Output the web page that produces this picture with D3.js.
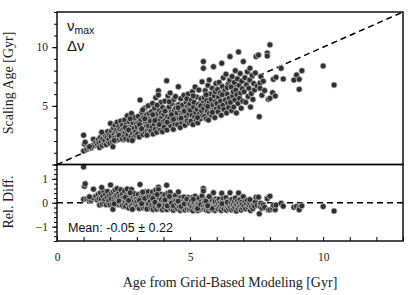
<!DOCTYPE html>
<html>
<head>
<meta charset="utf-8">
<script src="https://cdn.jsdelivr.net/npm/d3@7"></script>
<style>
  body { margin: 0; background: #fff; }
  svg { display: block; }
</style>
</head>
<body>
<div id="chart"></div>
<script>
// ages, grid-based modelling (x) vs scaling relations (y)
const gridAge = [
  1.00,1.03,1.06,1.00,1.12,1.20,1.28,1.37,1.43,1.33,1.46,1.22,
  1.52,1.55,1.58,1.60,1.63,1.66,1.70,1.72,1.75,1.78,1.80,1.82,1.85,1.88,1.90,1.92,1.95,1.97,1.99,1.68,
  2.01,2.03,2.05,2.08,2.10,2.12,2.14,2.16,2.18,2.20,2.22,2.24,2.26,2.28,2.30,2.32,2.34,2.36,2.38,2.40,2.42,2.44,2.46,2.48,2.49,2.15,2.33,2.45,
  2.51,2.52,2.54,2.56,2.58,2.60,2.62,2.64,2.66,2.68,2.70,2.72,2.74,2.76,2.78,2.80,2.82,2.84,2.86,2.88,2.90,2.92,2.94,2.96,2.98,2.57,2.69,2.83,2.91,2.75,
  3.01,3.03,3.05,3.07,3.09,3.12,3.13,3.15,3.17,3.19,3.21,3.23,3.25,3.27,3.29,3.31,3.33,3.35,3.37,3.39,3.41,3.43,3.45,3.47,3.49,3.10,3.22,3.30,3.38,3.46,3.18,3.44,
  3.51,3.53,3.55,3.57,3.59,3.61,3.63,3.65,3.67,3.69,3.71,3.73,3.75,3.77,3.79,3.81,3.81,3.83,3.85,3.87,3.89,3.91,3.93,3.95,3.97,3.99,3.60,3.68,3.76,3.84,3.92,3.96,
  4.01,4.03,4.05,4.07,4.12,4.11,4.13,4.15,4.17,4.19,4.21,4.23,4.25,4.27,4.29,4.31,4.33,4.35,4.37,4.39,4.41,4.43,4.45,4.47,4.49,4.06,4.14,4.22,4.30,4.38,4.46,
  4.51,4.53,4.56,4.57,4.59,4.61,4.63,4.65,4.67,4.69,4.71,4.73,4.75,4.77,4.79,4.81,4.83,4.85,4.87,4.89,4.91,4.93,4.95,4.97,4.99,4.55,4.66,4.78,4.88,4.96,
  5.01,5.03,5.05,5.07,5.09,5.11,5.13,5.15,5.17,5.19,5.21,5.23,5.25,5.27,5.29,5.31,5.33,5.35,5.37,5.39,5.41,5.43,5.45,5.47,5.49,5.50,5.50,5.12,5.28,5.40,
  5.51,5.53,5.55,5.57,5.59,5.61,5.63,5.65,5.67,5.69,5.71,5.73,5.75,5.77,5.79,5.81,5.83,5.85,5.88,5.89,5.91,5.93,5.95,5.97,5.99,5.60,5.72,5.84,5.94,5.66,
  6.01,6.03,6.05,6.07,6.09,6.11,6.13,6.15,6.17,6.19,6.21,6.23,6.25,6.27,6.29,6.31,6.33,6.35,6.37,6.39,6.41,6.43,6.45,6.47,6.49,6.50,6.20,6.40,
  6.52,6.54,6.56,6.58,6.60,6.62,6.64,6.66,6.68,6.70,6.72,6.74,6.76,6.78,6.80,6.82,6.84,6.86,6.88,6.90,6.92,6.94,6.96,6.98,
  7.00,7.03,7.06,7.09,7.12,7.15,7.18,7.21,7.24,7.27,7.30,7.33,7.36,7.39,7.42,7.45,7.48,7.25,
  7.52,7.57,7.60,7.63,7.63,7.66,7.70,7.75,7.80,7.90,7.90,7.94,8.00,8.00,
  8.10,8.20,8.13,8.23,8.42,8.50,8.90,9.00,9.10,9.10,9.20,10.00,10.41
];
const scalingAge = [
  2.50,1.74,1.90,1.15,1.30,1.38,1.41,2.15,1.66,1.60,1.86,1.52,
  1.70,2.10,1.85,1.45,2.30,1.95,1.62,2.20,2.60,1.80,2.05,2.45,1.70,2.30,2.80,1.95,2.15,2.55,1.82,2.75,
  3.50,2.40,2.85,1.95,1.52,3.10,2.60,2.25,3.35,2.80,2.05,2.95,3.60,2.40,2.70,3.20,2.15,3.00,2.55,3.70,2.30,2.90,3.35,2.65,2.10,2.05,2.50,2.20,
  3.05,2.40,3.80,2.75,2.20,3.40,2.95,4.15,2.55,3.20,2.10,3.65,2.85,3.00,2.40,4.35,3.30,2.65,3.55,2.30,3.10,3.85,2.75,2.50,3.45,3.15,2.95,2.05,4.00,3.90,
  3.20,2.60,4.10,3.55,2.35,5.50,3.00,3.80,2.85,4.45,3.35,2.55,4.00,3.10,4.80,2.75,3.65,3.25,4.25,2.90,3.50,5.00,3.05,3.85,2.65,3.40,4.65,3.90,2.50,4.35,3.05,3.30,
  3.70,2.85,4.50,3.25,5.20,2.60,4.05,3.45,4.80,3.00,5.70,3.90,2.75,4.35,3.55,6.29,5.92,3.15,4.60,3.80,2.95,5.30,4.10,3.35,4.85,3.65,4.25,3.75,5.05,3.40,4.40,2.80,
  4.30,3.20,5.40,3.75,7.14,4.70,2.95,4.05,5.85,3.50,4.90,3.95,6.10,3.30,4.45,5.20,3.70,4.15,3.00,5.55,4.60,3.45,5.80,4.00,5.00,4.55,3.60,5.35,4.25,3.85,4.80,
  4.40,3.40,6.63,5.10,3.90,4.65,3.15,5.60,4.20,3.60,5.05,4.45,3.85,5.90,4.00,3.35,4.75,5.30,4.10,3.70,4.95,6.00,4.30,3.55,5.15,4.85,3.95,4.55,5.60,4.70,
  4.60,3.70,5.50,4.20,6.20,3.40,4.90,5.30,4.05,6.60,4.45,3.80,5.75,4.70,3.55,5.10,6.35,4.30,4.95,3.90,5.60,4.55,7.05,4.15,5.25,8.77,8.20,5.85,4.00,5.00,
  4.80,5.70,4.10,6.30,5.05,3.90,5.45,4.55,6.75,3.79,5.25,4.35,6.00,4.90,5.55,4.20,6.50,5.10,8.34,4.65,5.85,4.00,5.35,6.90,4.75,5.95,7.20,4.45,6.20,4.95,
  5.20,6.40,4.50,5.75,7.00,4.90,6.10,5.40,4.20,8.63,6.65,5.05,7.40,4.70,5.90,6.30,5.50,7.70,4.40,6.00,5.25,6.85,4.85,5.65,7.20,9.20,5.95,6.55,
  5.30,6.60,4.60,7.50,5.85,6.20,4.90,7.00,5.50,8.00,6.35,4.40,5.95,7.30,5.20,9.60,6.75,5.65,7.75,6.10,4.80,7.10,6.45,5.40,
  8.77,6.20,7.40,5.30,6.80,7.90,5.80,6.50,7.20,4.90,6.05,7.60,5.55,6.90,6.35,7.80,9.20,8.20,
  6.70,9.33,4.08,6.95,6.50,7.50,5.90,7.10,6.30,9.50,9.25,5.56,10.20,5.64,
  6.12,5.84,7.26,7.43,8.20,7.29,7.20,7.63,7.26,6.41,8.00,8.40,6.78
];

const xTicks = [0, 5, 10];
const topTicks = [5, 10];
const botTicks = [-1, 0, 1];
const legendLabels = ["max", "Δν"];
const meanLabel = "Mean: -0.05 ± 0.22";

const W = 415, H = 295;
const plot = {left: 57, right: 403, top: 12, mid: 164.5, bottom: 241};

const svg = d3.select("#chart").append("svg")
  .attr("width", W)
  .attr("height", H);

const x = d3.scaleLinear().domain([0, 13]).range([plot.left, plot.right]);
const yTop = d3.scaleLinear().domain([0, 13]).range([plot.mid, plot.top]);
const yBot = d3.scaleLinear().domain([-1.6, 1.6]).range([plot.bottom, plot.mid]);

const pts = gridAge.map((g, i) => ({g: g, s: scalingAge[i], r: (scalingAge[i] - g) / g}));

const serif = "'Liberation Serif', 'DejaVu Serif', serif";
const sans = "'Liberation Sans', Arial, sans-serif";

function styleAxis(g) {
  g.select(".domain").remove();
  g.selectAll(".tick line").attr("stroke", "#000").attr("stroke-width", 1);
  g.selectAll(".tick text").attr("fill", "#222").style("font-family", serif).style("font-size", "11.5px");
}

// clip paths for each panel
const defs = svg.append("defs");
defs.append("clipPath").attr("id", "clipTop").append("rect")
  .attr("x", plot.left).attr("y", plot.top)
  .attr("width", plot.right - plot.left).attr("height", plot.mid - plot.top);
defs.append("clipPath").attr("id", "clipBot").append("rect")
  .attr("x", plot.left).attr("y", plot.mid)
  .attr("width", plot.right - plot.left).attr("height", plot.bottom - plot.mid);

// top panel
const topPanel = svg.append("g").attr("clip-path", "url(#clipTop)");
topPanel.append("line")
  .attr("x1", x(0)).attr("y1", yTop(0))
  .attr("x2", x(13)).attr("y2", yTop(13))
  .attr("stroke", "#000").attr("stroke-width", 1.5)
  .attr("stroke-dasharray", "6,4");
topPanel.selectAll("circle").data(pts).enter().append("circle")
  .attr("cx", d => x(d.g))
  .attr("cy", d => yTop(d.s))
  .attr("r", 3)
  .attr("fill", "#303030")
  .attr("stroke", "#d0d0d0")
  .attr("stroke-width", 0.7);

// bottom panel
const botPanel = svg.append("g").attr("clip-path", "url(#clipBot)");
botPanel.append("line")
  .attr("x1", x(0)).attr("y1", yBot(0))
  .attr("x2", x(13)).attr("y2", yBot(0))
  .attr("stroke", "#000").attr("stroke-width", 1.5)
  .attr("stroke-dasharray", "6,4");
botPanel.selectAll("circle").data(pts).enter().append("circle")
  .attr("cx", d => x(d.g))
  .attr("cy", d => yBot(d.r))
  .attr("r", 3)
  .attr("fill", "#303030")
  .attr("stroke", "#d0d0d0")
  .attr("stroke-width", 0.7);

// axes: minor ticks first, then labelled major ticks
svg.append("g").attr("transform", `translate(${plot.left},0)`)
  .call(d3.axisLeft(yTop).tickValues(d3.range(0, 14)).tickSize(3).tickFormat(""))
  .call(styleAxis);
svg.append("g").attr("transform", `translate(${plot.left},0)`)
  .call(d3.axisLeft(yTop).tickValues([0].concat(topTicks)).tickSize(5).tickPadding(4)
    .tickFormat(d => topTicks.includes(d) ? d : ""))
  .call(styleAxis);

svg.append("g").attr("transform", `translate(${plot.left},0)`)
  .call(d3.axisLeft(yBot).tickValues(d3.range(-16, 17, 2).map(v => v / 10)).tickSize(3).tickFormat(""))
  .call(styleAxis);
svg.append("g").attr("transform", `translate(${plot.left},0)`)
  .call(d3.axisLeft(yBot).tickValues(botTicks).tickSize(5).tickPadding(4).tickFormat(d3.format("d")))
  .call(styleAxis);

svg.append("g").attr("transform", `translate(0,${plot.bottom})`)
  .call(d3.axisBottom(x).tickValues(d3.range(0, 14)).tickSize(-4).tickPadding(12)
    .tickFormat(d => xTicks.includes(d) ? d : ""))
  .call(styleAxis);

// frames
[[plot.top, plot.mid], [plot.mid, plot.bottom]].forEach(([a, b]) => {
  svg.append("rect")
    .attr("x", plot.left).attr("y", a)
    .attr("width", plot.right - plot.left).attr("height", b - a)
    .attr("fill", "none").attr("stroke", "#000").attr("stroke-width", 1.4);
});

// legend text
const leg = svg.append("text")
  .attr("x", 67).attr("y", 31)
  .style("font-family", sans).style("font-size", "15px").attr("fill", "#111");
leg.append("tspan").text("ν");
leg.append("tspan").attr("dy", 3).style("font-size", "10.5px").text(legendLabels[0]);
svg.append("text")
  .attr("x", 67).attr("y", 51)
  .style("font-family", sans).style("font-size", "15px").attr("fill", "#111")
  .text(legendLabels[1]);

svg.append("text")
  .attr("x", 68).attr("y", 232)
  .style("font-family", sans).style("font-size", "12.5px").attr("fill", "#111")
  .text(meanLabel);

// axis titles
svg.append("text")
  .attr("transform", "translate(13,83) rotate(-90)")
  .attr("text-anchor", "middle")
  .style("font-family", serif).style("font-size", "14px").attr("fill", "#222")
  .text("Scaling Age [Gyr]");
svg.append("text")
  .attr("transform", "translate(13,202) rotate(-90)")
  .attr("text-anchor", "middle")
  .style("font-family", serif).style("font-size", "14px").attr("fill", "#222")
  .text("Rel. Diff.");
svg.append("text")
  .attr("x", 230).attr("y", 287)
  .attr("text-anchor", "middle")
  .style("font-family", serif).style("font-size", "14px").attr("fill", "#222")
  .text("Age from Grid-Based Modeling [Gyr]");
</script>
</body>
</html>
